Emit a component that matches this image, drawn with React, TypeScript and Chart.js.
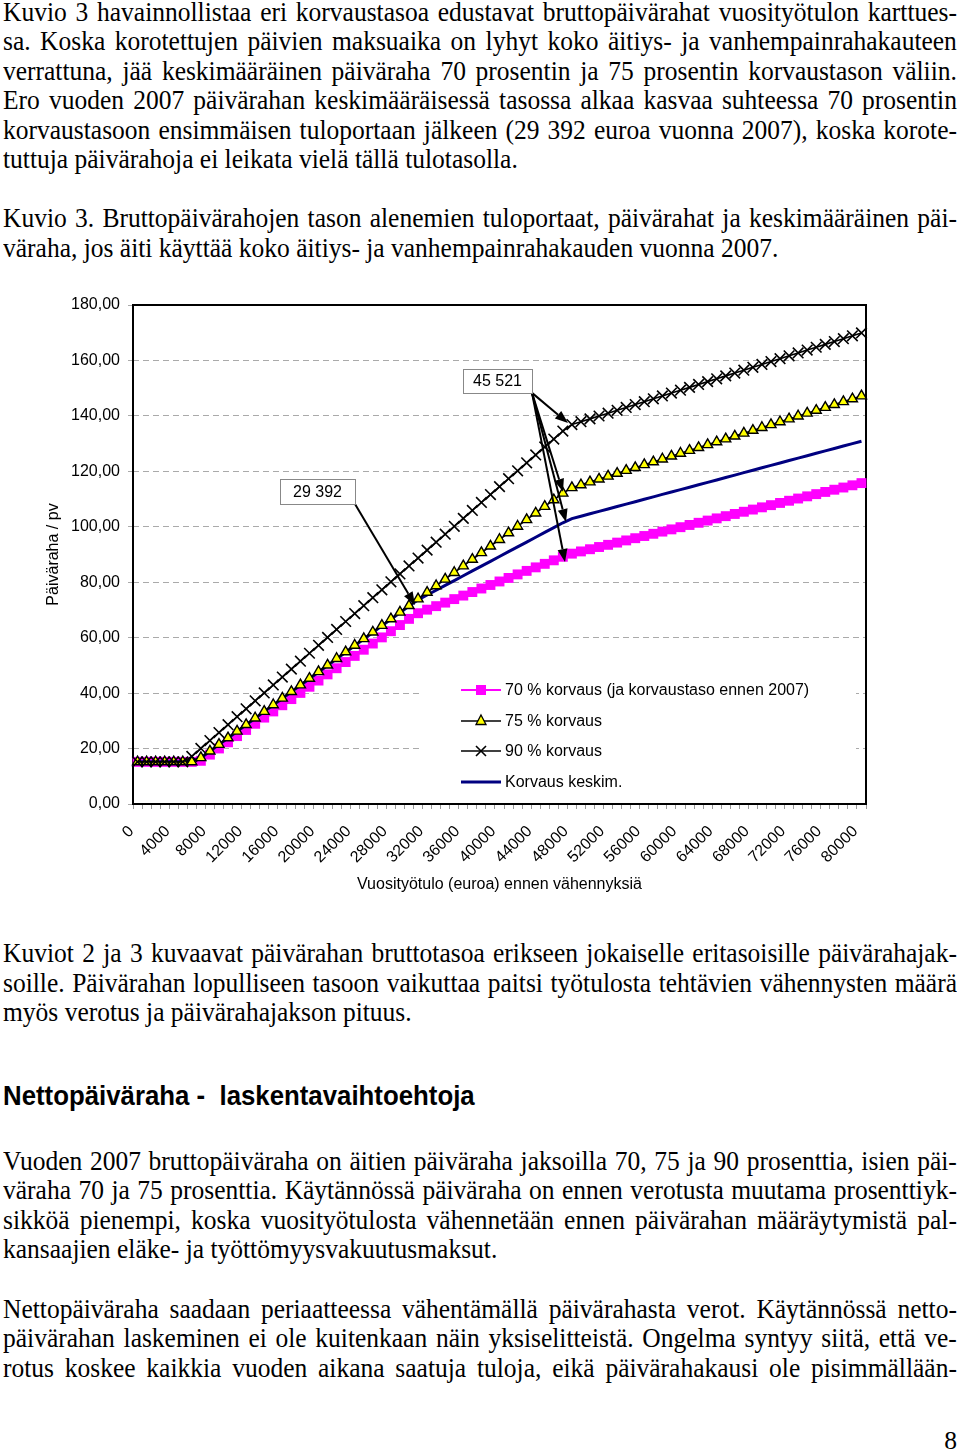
import React, { useEffect, useRef } from 'react';
import { Chart, registerables } from 'chart.js';

Chart.register(...registerables);

// ---------- DATA ----------
const incomeLabels = [
  '0', '1000', '2000', '3000', '4000', '5000', '6000', '7000', '8000', '9000',
  '10000', '11000', '12000', '13000', '14000', '15000', '16000', '17000', '18000', '19000',
  '20000', '21000', '22000', '23000', '24000', '25000', '26000', '27000', '28000', '29000',
  '30000', '31000', '32000', '33000', '34000', '35000', '36000', '37000', '38000', '39000',
  '40000', '41000', '42000', '43000', '44000', '45000', '46000', '47000', '48000', '49000',
  '50000', '51000', '52000', '53000', '54000', '55000', '56000', '57000', '58000', '59000',
  '60000', '61000', '62000', '63000', '64000', '65000', '66000', '67000', '68000', '69000',
  '70000', '71000', '72000', '73000', '74000', '75000', '76000', '77000', '78000', '79000',
  '80000',
];

const korvaus70 = [
  15.2, 15.2, 15.2, 15.2, 15.2, 15.2, 15.2, 15.58, 17.81, 20.03,
  22.26, 24.49, 26.71, 28.94, 31.16, 33.39, 35.62, 37.84, 40.07, 42.29,
  44.52, 46.75, 48.97, 51.2, 53.42, 55.65, 57.88, 60.1, 62.33, 64.55,
  66.78, 68.82, 70.1, 71.37, 72.64, 73.91, 75.18, 76.46, 77.73, 79.0,
  80.27, 81.54, 82.82, 84.09, 85.36, 86.63, 87.9, 89.18, 90.31, 91.11,
  91.9, 92.7, 93.49, 94.29, 95.08, 95.88, 96.67, 97.47, 98.26, 99.06,
  99.85, 100.65, 101.44, 102.24, 103.03, 103.83, 104.62, 105.42, 106.21, 107.01,
  107.8, 108.6, 109.39, 110.19, 110.98, 111.78, 112.57, 113.37, 114.16, 114.96,
  115.75,
];

const korvaus75 = [
  15.2, 15.2, 15.2, 15.2, 15.2, 15.2, 15.2, 16.7, 19.08, 21.47,
  23.85, 26.24, 28.62, 31.01, 33.39, 35.78, 38.16, 40.55, 42.93, 45.32,
  47.7, 50.09, 52.47, 54.86, 57.24, 59.63, 62.01, 64.4, 66.78, 69.17,
  71.55, 73.94, 76.32, 78.71, 81.09, 83.48, 85.86, 88.25, 90.63, 93.02,
  95.4, 97.79, 100.17, 102.56, 104.94, 107.33, 109.71, 112.1, 114.1, 115.13,
  116.16, 117.2, 118.23, 119.26, 120.3, 121.33, 122.37, 123.4, 124.43, 125.47,
  126.5, 127.53, 128.57, 129.6, 130.63, 131.67, 132.7, 133.73, 134.77, 135.8,
  136.83, 137.87, 138.9, 139.94, 140.97, 142.0, 143.04, 144.07, 145.1, 146.14,
  147.17,
];

const korvaus90 = [
  15.2, 15.2, 15.2, 15.2, 15.2, 15.2, 17.17, 20.03, 22.9, 25.76,
  28.62, 31.48, 34.34, 37.21, 40.07, 42.93, 45.79, 48.65, 51.52, 54.38,
  57.24, 60.1, 62.96, 65.83, 68.69, 71.55, 74.41, 77.27, 80.14, 83.0,
  85.86, 88.72, 91.58, 94.45, 97.31, 100.17, 103.03, 105.89, 108.76, 111.62,
  114.48, 117.34, 120.2, 123.07, 125.93, 128.79, 131.65, 134.51, 136.86, 137.89,
  138.92, 139.96, 140.99, 142.02, 143.06, 144.09, 145.13, 146.16, 147.19, 148.23,
  149.26, 150.29, 151.33, 152.36, 153.39, 154.43, 155.46, 156.49, 157.53, 158.56,
  159.59, 160.63, 161.66, 162.7, 163.73, 164.76, 165.8, 166.83, 167.86, 168.9,
  169.93,
];

const korvausKeskim = [
  15.2, 15.2, 15.2, 15.2, 15.2, 15.2, 15.62, 16.66, 19.04, 21.42,
  23.8, 26.18, 28.56, 30.93, 33.31, 35.69, 38.07, 40.45, 42.83, 45.21,
  47.59, 49.97, 52.35, 54.73, 57.11, 59.49, 61.87, 64.25, 66.63, 69.01,
  71.39, 73.64, 75.38, 77.12, 78.86, 80.59, 82.33, 84.07, 85.81, 87.54,
  89.28, 91.02, 92.76, 94.49, 96.23, 97.97, 99.71, 101.44, 102.94, 103.81,
  104.68, 105.55, 106.43, 107.3, 108.17, 109.05, 109.92, 110.79, 111.67, 112.54,
  113.41, 114.28, 115.16, 116.03, 116.9, 117.78, 118.65, 119.52, 120.4, 121.27,
  122.14, 123.01, 123.89, 124.76, 125.63, 126.51, 127.38, 128.25, 129.13, 130.0,
  130.87,
];

const seriesNames = [
  '70 % korvaus (ja korvaustaso ennen 2007)',
  '75 % korvaus',
  '90 % korvaus',
  'Korvaus keskim.',
];
const yAxisTitle = 'Päiväraha / pv';
const xAxisTitle = 'Vuosityötulo (euroa) ennen vähennyksiä';
const labelEvery = 4;
const annotation1 = '29 392';
const annotation2 = '45 521';

// ---------- STYLE ----------
const SANS = 'Arial, "Liberation Sans", sans-serif';
const SERIF = '"Liberation Serif", "Times New Roman", serif';
const MAGENTA = '#ff00ff';
const YELLOW = '#ffff00';
const NAVY = '#000080';

function drawArrow(ctx: CanvasRenderingContext2D, x1: number, y1: number, x2: number, y2: number) {
  const ang = Math.atan2(y2 - y1, x2 - x1);
  const L = 13;
  const W = 5;
  const bx = x2 - L * Math.cos(ang);
  const by = y2 - L * Math.sin(ang);
  ctx.save();
  ctx.strokeStyle = '#000';
  ctx.fillStyle = '#000';
  ctx.lineWidth = 2;
  ctx.beginPath();
  ctx.moveTo(x1, y1);
  ctx.lineTo(bx, by);
  ctx.stroke();
  ctx.beginPath();
  ctx.moveTo(x2, y2);
  ctx.lineTo(bx + W * Math.sin(ang), by - W * Math.cos(ang));
  ctx.lineTo(bx - W * Math.sin(ang), by + W * Math.cos(ang));
  ctx.closePath();
  ctx.fill();
  ctx.restore();
}

function drawBox(ctx: CanvasRenderingContext2D, x1: number, y1: number, x2: number, y2: number, text: string) {
  ctx.save();
  ctx.fillStyle = '#fff';
  ctx.fillRect(x1, y1, x2 - x1, y2 - y1);
  ctx.strokeStyle = '#888';
  ctx.lineWidth = 1;
  ctx.strokeRect(Math.round(x1) + 0.5, Math.round(y1) + 0.5, Math.round(x2 - x1), Math.round(y2 - y1));
  ctx.fillStyle = '#000';
  ctx.font = `16px ${SANS}`;
  ctx.textAlign = 'center';
  ctx.textBaseline = 'middle';
  ctx.fillText(text, (x1 + x2) / 2, (y1 + y2) / 2 + 1);
  ctx.restore();
}

const framePlugin = {
  id: 'frameLegend',
  beforeDatasetsDraw(chart: any) {
    const { ctx, chartArea: a } = chart;
    // legend background
    const lx = a.left + 289;
    const ly = a.top + 367;
    ctx.save();
    ctx.fillStyle = '#fff';
    ctx.fillRect(lx, ly, 434, 128);
    ctx.restore();
    // frame
    ctx.save();
    ctx.strokeStyle = '#000';
    ctx.lineWidth = 2;
    ctx.strokeRect(a.left, a.top, a.right - a.left, a.bottom - a.top);
    ctx.restore();

    // legend entries
    const rows = [385, 416, 446, 477];
    const x0 = a.left + 328;
    const x1 = a.left + 368;
    const xm = (x0 + x1) / 2;
    ctx.save();
    ctx.font = `16px ${SANS}`;
    ctx.textBaseline = 'middle';
    ctx.textAlign = 'left';
    rows.forEach((r, i) => {
      const y = a.top + r;
      const ds = chart.data.datasets[i];
      ctx.strokeStyle = ds.borderColor;
      ctx.lineWidth = ds.borderWidth;
      ctx.beginPath();
      ctx.moveTo(x0, y);
      ctx.lineTo(x1, y);
      ctx.stroke();
      if (i === 0) {
        ctx.fillStyle = MAGENTA;
        ctx.fillRect(xm - 5, y - 5, 10, 10);
      } else if (i === 1) {
        ctx.fillStyle = YELLOW;
        ctx.strokeStyle = '#000';
        ctx.lineWidth = 1.3;
        ctx.beginPath();
        ctx.moveTo(xm, y - 6);
        ctx.lineTo(xm + 5, y + 3.5);
        ctx.lineTo(xm - 5, y + 3.5);
        ctx.closePath();
        ctx.fill();
        ctx.stroke();
      } else if (i === 2) {
        ctx.strokeStyle = '#000';
        ctx.lineWidth = 1.6;
        ctx.beginPath();
        ctx.moveTo(xm - 5, y - 5);
        ctx.lineTo(xm + 5, y + 5);
        ctx.moveTo(xm + 5, y - 5);
        ctx.lineTo(xm - 5, y + 5);
        ctx.stroke();
      }
      ctx.fillStyle = '#000';
      ctx.fillText(seriesNames[i], x1 + 4, y + 1);
    });
    ctx.restore();
  },
  afterDatasetsDraw(chart: any) {
    const { ctx } = chart;
    const xs = chart.scales.x;
    const ys = chart.scales.y;
    const px = (v: number) => xs.getPixelForValue(v);
    const py = (v: number) => ys.getPixelForValue(v);
    // 29 392
    drawArrow(ctx, px(24.03), py(108.2), px(30.66), py(71.8));
    drawBox(ctx, px(15.74), py(117.2), px(24.03), py(108.2), annotation1);
    // 45 521
    const ox = px(43.59);
    const oy = py(148.3);
    drawArrow(ctx, ox, oy, px(47.57), py(137.4));
    drawArrow(ctx, ox, oy, px(47.02), py(112.6));
    drawArrow(ctx, ox, oy, px(47.35), py(101.7));
    drawArrow(ctx, ox, oy, px(47.24), py(87.3));
    drawBox(ctx, px(35.96), py(156.9), px(43.59), py(148.3), annotation2);
  },
};

function ChartBlock() {
  const ref = useRef<HTMLCanvasElement | null>(null);
  useEffect(() => {
    if (!ref.current) return;
    const font = { family: SANS, size: 16 };
    const chart = new Chart(ref.current, {
      type: 'line',
      data: {
        labels: incomeLabels,
        datasets: [
          {
            label: seriesNames[0],
            data: korvaus70,
            borderColor: MAGENTA,
            backgroundColor: MAGENTA,
            borderWidth: 2,
            pointStyle: 'rect',
            pointRadius: 7,
            pointBorderWidth: 0,
            pointBackgroundColor: MAGENTA,
            pointBorderColor: MAGENTA,
            order: 3,
          },
          {
            label: seriesNames[1],
            data: korvaus75,
            borderColor: '#000',
            backgroundColor: YELLOW,
            borderWidth: 1.6,
            pointStyle: 'triangle',
            pointRadius: 5.8,
            pointBorderWidth: 1.4,
            pointBackgroundColor: YELLOW,
            pointBorderColor: '#000',
            order: 1,
          },
          {
            label: seriesNames[2],
            data: korvaus90,
            borderColor: '#000',
            backgroundColor: '#000',
            borderWidth: 1.6,
            pointStyle: 'crossRot',
            pointRadius: 7.5,
            pointBorderWidth: 1.6,
            pointBorderColor: '#000',
            order: 0,
          },
          {
            label: seriesNames[3],
            data: korvausKeskim,
            borderColor: NAVY,
            backgroundColor: NAVY,
            borderWidth: 3,
            pointRadius: 0,
            order: 2,
          },
        ],
      },
      options: {
        animation: false,
        responsive: false,
        maintainAspectRatio: false,
        layout: { padding: { top: 20, right: 94, left: 0, bottom: 0 } },
        plugins: { legend: { display: false }, tooltip: { enabled: false } },
        scales: {
          x: {
            type: 'category',
            offset: true,
            grid: {
              display: true,
              drawOnChartArea: false,
              drawTicks: true,
              tickLength: 5,
              color: '#999',
              offset: true,
            },
            border: { display: false },
            ticks: {
              autoSkip: false,
              maxRotation: 45,
              minRotation: 45,
              padding: 13,
              labelOffset: -6,
              color: '#000',
              font,
              callback: (_v: any, i: number) => (i % labelEvery === 0 ? incomeLabels[i] : ''),
            },
            title: {
              display: true,
              text: xAxisTitle,
              color: '#000',
              font,
              padding: { top: 0, bottom: 11 },
            },
            afterFit: (s: any) => {
              s.height = 101;
            },
          },
          y: {
            min: 0,
            max: 180,
            grid: { color: '#aaa', tickLength: 5, lineWidth: 1 },
            border: { display: false, dash: [6, 4] },
            ticks: {
              stepSize: 20,
              padding: 8,
              color: '#000',
              font,
              callback: (v: any) => Number(v).toFixed(2).replace('.', ','),
            },
            title: {
              display: true,
              text: yAxisTitle,
              color: '#000',
              font,
              padding: { top: 44, bottom: 0 },
            },
            afterFit: (s: any) => {
              s.width = 133;
            },
          },
        },
      },
      plugins: [framePlugin],
    } as any);
    return () => chart.destroy();
  }, []);
  return (
    <canvas
      ref={ref}
      width={960}
      height={620}
      style={{ position: 'absolute', left: 0, top: 285, width: 960, height: 620 }}
    />
  );
}

type LineProps = { y: number; text: string; justify?: boolean };

function TextLine({ y, text, justify }: LineProps) {
  const base: React.CSSProperties = {
    position: 'absolute',
    left: 3,
    top: y - 15,
    width: 954,
    height: 30,
    lineHeight: '30px',
    fontFamily: SERIF,
    fontSize: 25.5,
    whiteSpace: 'pre',
    color: '#000',
    transform: 'scaleY(1.1)',
    transformOrigin: '50% 55%',
  };
  if (justify) {
    return (
      <div style={{ ...base, display: 'flex', justifyContent: 'space-between' }}>
        {text.split(' ').map((w, i) => (
          <span key={i}>{w}</span>
        ))}
      </div>
    );
  }
  return <div style={base}>{text}</div>;
}

const para1 = [
  'Kuvio 3 havainnollistaa eri korvaustasoa edustavat bruttopäivärahat vuosityötulon karttues-',
  'sa. Koska korotettujen päivien maksuaika on lyhyt koko äitiys- ja vanhempainrahakauteen',
  'verrattuna, jää keskimääräinen päiväraha 70 prosentin ja 75 prosentin korvaustason väliin.',
  'Ero vuoden 2007 päivärahan keskimääräisessä tasossa alkaa kasvaa suhteessa 70 prosentin',
  'korvaustasoon ensimmäisen tuloportaan jälkeen (29 392 euroa vuonna 2007), koska korote-',
  'tuttuja päivärahoja ei leikata vielä tällä tulotasolla.',
];
const para2 = [
  'Kuvio 3. Bruttopäivärahojen tason alenemien tuloportaat, päivärahat ja keskimääräinen päi-',
  'väraha, jos äiti käyttää koko äitiys- ja vanhempainrahakauden vuonna 2007.',
];
const para3 = [
  'Kuviot 2 ja 3 kuvaavat päivärahan bruttotasoa erikseen jokaiselle eritasoisille päivärahajak-',
  'soille. Päivärahan lopulliseen tasoon vaikuttaa paitsi työtulosta tehtävien vähennysten määrä',
  'myös verotus ja päivärahajakson pituus.',
];
const heading = 'Nettopäiväraha -  laskentavaihtoehtoja';
const para4 = [
  'Vuoden 2007 bruttopäiväraha on äitien päiväraha jaksoilla 70, 75 ja 90 prosenttia, isien päi-',
  'väraha 70 ja 75 prosenttia. Käytännössä päiväraha on ennen verotusta muutama prosenttiyk-',
  'sikköä pienempi, koska vuosityötulosta vähennetään ennen päivärahan määräytymistä pal-',
  'kansaajien eläke- ja työttömyysvakuutusmaksut.',
];
const para5 = [
  'Nettopäiväraha saadaan periaatteessa vähentämällä päivärahasta verot. Käytännössä netto-',
  'päivärahan laskeminen ei ole kuitenkaan näin yksiselitteistä. Ongelma syntyy siitä, että ve-',
  'rotus koskee kaikkia vuoden aikana saatuja tuloja, eikä päivärahakausi ole pisimmällään-',
];

function Paragraph({ lines, ys, lastJustified }: { lines: string[]; ys: number[]; lastJustified?: boolean }) {
  return (
    <>
      {lines.map((t, i) => (
        <TextLine key={i} y={ys[i]} text={t} justify={i < lines.length - 1 || !!lastJustified} />
      ))}
    </>
  );
}

export default function App() {
  return (
    <div
      style={{
        position: 'absolute',
        left: 0,
        top: 0,
        width: 960,
        height: 1451,
        overflow: 'hidden',
        background: '#fff',
      }}
    >
      <Paragraph lines={para1} ys={[12, 41, 71, 100, 130, 159]} />
      <Paragraph lines={para2} ys={[218, 248]} />
      <ChartBlock />
      <Paragraph lines={para3} ys={[953, 983, 1012]} />
      <div
        style={{
          position: 'absolute',
          left: 3,
          top: 1095 - 16,
          height: 32,
          lineHeight: '32px',
          fontFamily: SANS,
          fontWeight: 'bold',
          fontSize: 25.8,
          whiteSpace: 'pre',
          color: '#000',
          transform: 'scaleY(1.1)',
          transformOrigin: '50% 55%',
        }}
      >
        {heading}
      </div>
      <Paragraph lines={para4} ys={[1161, 1190, 1220, 1249]} />
      <Paragraph lines={para5} ys={[1309, 1338, 1368]} lastJustified />
      <div
        style={{
          position: 'absolute',
          right: 3,
          top: 1441 - 15,
          height: 30,
          lineHeight: '30px',
          fontFamily: SERIF,
          fontSize: 25.5,
          color: '#000',
        }}
      >
        8
      </div>
    </div>
  );
}
